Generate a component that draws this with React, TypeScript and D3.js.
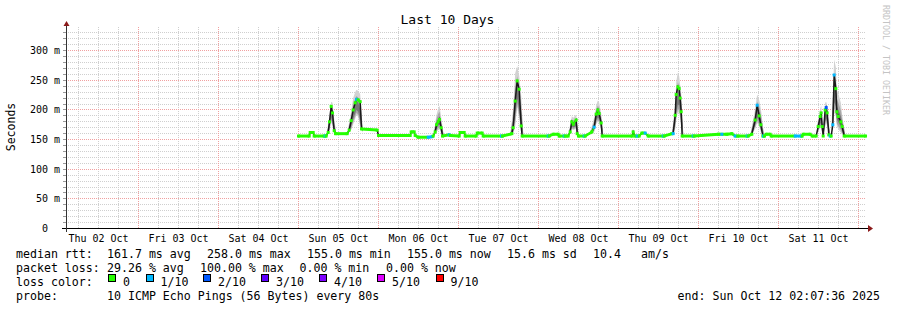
import React from 'react';
import * as d3 from 'd3';

// ---- data ----
const startTime = new Date(2025, 9, 2, 2, 7, 36);
const endTime = new Date(2025, 9, 12, 2, 7, 36);
const dataOrigin = new Date(2025, 9, 5, 0, 0, 0);

// hours since Sun 05 Oct 00:00
const hours = [
  0.0, 3.2, 3.5, 4.4, 4.7, 7.7, 8.0, 8.3, 8.9, 9.3, 9.8, 10.2, 10.7, 11.1,
  14.6, 15.2, 15.8, 16.4, 17.0, 17.4, 17.9, 18.5, 18.9, 23.6, 24.0,
  33.5, 33.8, 34.7, 35.0, 35.9, 38.9, 40.1, 40.4, 41.0, 41.4, 41.9, 42.3, 42.8, 43.2,
  45.2, 45.5, 48.2, 48.5, 49.7, 50.0, 53.3, 53.6, 55.1, 55.4, 60.9, 61.2,
  64.0, 64.4, 65.0, 65.6, 66.2, 66.8, 67.1,
  74.9, 75.2, 76.4, 77.9, 78.2, 79.7, 80.0, 80.9, 81.5, 82.0, 82.4, 83.3, 83.6, 84.0,
  85.7, 86.0, 88.0, 88.7, 89.3, 89.8, 90.2, 90.8, 91.1,
  100.1, 100.4, 100.9, 101.6, 102.2, 103.0, 104.0, 104.9, 109.4, 109.7,
  112.0, 112.4, 113.0, 113.3, 113.8, 114.2, 114.5, 114.8, 115.1,
  118.4, 118.7, 126.0, 127.0, 128.5, 130.0, 131.0, 131.8,
  134.6, 134.9, 136.0, 137.0, 137.6, 138.2, 138.7, 139.3, 139.5, 139.8, 140.3, 141.5, 141.8,
  149.0, 150.8, 151.1, 151.4, 153.5, 154.1,
  155.3, 155.9, 156.5, 156.8, 157.1, 157.4, 158.0, 158.3, 158.6, 159.1, 159.5, 159.8,
  160.3, 160.7, 161.2, 161.5, 161.9, 162.7, 163.1, 163.7, 170.1,
];
const medianMs = [
  156, 156, 162, 162, 156, 156, 156, 156, 162, 180, 206, 195, 165, 160,
  160, 166, 182, 200, 212, 218, 217, 214, 168, 166, 157,
  157, 163, 163, 157, 154, 154, 155, 156, 163, 175, 180, 184, 170, 156,
  158, 157, 156, 162, 162, 156, 156, 161, 161, 156, 156, 156,
  160, 170, 215, 249, 235, 173, 156,
  156, 156, 159, 159, 156, 156, 156, 156, 163, 180, 176, 183, 160, 156,
  156, 156, 163, 171, 193, 200, 194, 178, 156,
  156, 163, 156, 156, 156, 161, 161, 156, 156, 156,
  160, 160, 191, 226, 239, 236, 220, 197, 156,
  156, 156, 159, 159, 159, 160, 156, 156,
  156, 156, 159, 183, 208, 190, 175, 156, 156, 156, 159, 159, 156,
  156, 156, 156, 159, 159, 156,
  156, 172, 189, 195, 172, 156, 200, 204, 195, 158, 156, 156,
  175, 259, 236, 197, 189, 180, 172, 156, 156,
];
// lost pings out of 10
const lossTenths = [
  0, 0, 0, 0, 0, 0, 1, 0, 0, 0, 0, 0, 0, 0,
  0, 0, 0, 0, 0, 1, 0, 0, 0, 0, 0,
  0, 0, 0, 0, 0, 1, 1, 0, 0, 0, 0, 0, 0, 0,
  1, 0, 0, 0, 0, 0, 0, 0, 0, 0, 1, 0,
  0, 0, 0, 0, 0, 0, 0,
  1, 0, 0, 0, 0, 1, 0, 0, 0, 0, 0, 0, 0, 0,
  1, 0, 0, 1, 0, 0, 0, 0, 0,
  0, 0, 0, 1, 0, 0, 1, 0, 1, 0,
  0, 1, 0, 0, 0, 0, 0, 0, 0,
  1, 0, 0, 1, 0, 0, 1, 0,
  1, 0, 0, 0, 1, 0, 0, 0, 1, 0, 0, 0, 0,
  1, 1, 0, 0, 0, 0,
  0, 0, 0, 0, 0, 0, 0, 2, 0, 0, 1, 0,
  1, 1, 0, 0, 0, 0, 0, 0, 0,
];

// smoke (spread of the 10 pings)
const smokeGroup = [
  1, 1, 1, 1, 1, 1,
  2, 2, 2, 2, 2, 2, 2, 2,
  3, 3, 3, 3, 3, 3,
  4, 4, 4, 4, 4, 4, 4,
  5, 5, 5, 5, 5,
  6, 6, 6, 6, 6, 6, 6,
  7, 7, 7, 7, 7, 7, 7, 7,
  8, 8, 8, 8, 8, 8,
  9, 9, 9, 9, 9, 9, 9, 9, 9,
  10, 10, 10, 10, 10, 10, 10, 10,
];
const smokeHours = [
  8.6, 9.3, 9.8, 10.2, 10.7, 11.3,
  14.9, 15.8, 16.4, 17.0, 17.4, 17.9, 18.5, 19.2,
  40.7, 41.4, 41.9, 42.3, 42.8, 43.5,
  63.6, 64.4, 65.0, 65.6, 66.2, 66.8, 67.4,
  81.2, 82.0, 82.4, 83.3, 83.9,
  87.7, 88.7, 89.3, 89.8, 90.2, 90.8, 91.4,
  112.1, 113.0, 113.3, 113.8, 114.2, 114.5, 114.8, 115.4,
  135.7, 137.0, 137.6, 138.2, 138.7, 139.6,
  155.6, 156.5, 156.8, 157.1, 157.4, 158.0, 158.3, 158.6, 159.4,
  160.0, 160.7, 161.2, 161.5, 161.9, 162.7, 163.1, 164.0,
];
const smokeLowMs = [
  160, 165, 180, 172, 160, 158,
  160, 166, 176, 185, 192, 188, 172, 162,
  157, 163, 166, 168, 160, 156,
  156, 160, 172, 205, 185, 163, 156,
  158, 168, 166, 168, 157,
  158, 163, 176, 180, 178, 166, 156,
  157, 168, 182, 196, 195, 186, 172, 156,
  157, 168, 178, 172, 163, 156,
  160, 170, 172, 160, 156, 172, 178, 172, 156,
  162, 195, 190, 172, 168, 162, 158, 156,
];
const smokeHighMs = [
  164, 192, 214, 212, 185, 162,
  170, 197, 220, 230, 234, 232, 227, 175,
  166, 192, 202, 207, 188, 160,
  162, 203, 262, 274, 258, 224, 162,
  166, 190, 187, 192, 166,
  166, 187, 208, 216, 212, 195, 160,
  164, 208, 247, 263, 257, 242, 228, 164,
  163, 202, 226, 217, 202, 160,
  176, 202, 207, 188, 168, 212, 214, 207, 162,
  186, 285, 272, 234, 228, 212, 192, 160,
];

const yTickValues = [0, 50, 100, 150, 200, 250, 300];
const lossLabels = ['0', '1/10', '2/10', '3/10', '4/10', '5/10', '9/10'];
const lossColors = ['#26ff00', '#00b8ff', '#0059ff', '#5e00ff', '#7e00ff', '#dd00ff', '#ff0000'];
const lossColorByTenths: Record<number, string> = { 0: '#26ff00', 1: '#00b8ff', 2: '#0059ff', 3: '#5e00ff', 4: '#7e00ff', 5: '#dd00ff', 9: '#ff0000' };

const titleText = 'Last 10 Days';
const yAxisTitle = 'Seconds';
const medianRow = ['median rtt:', '161.7 ms avg', '258.0 ms max', '155.0 ms min', '155.0 ms now', '15.6 ms sd', '10.4', 'am/s'];
const lossRow = ['packet loss:', '29.26 % avg', '100.00 % max', '0.00 % min', '0.00 % now'];
const probeRow = ['probe:', '10 ICMP Echo Pings (56 Bytes) every 80s'];
const endText = 'end: Sun Oct 12 02:07:36 2025';
const watermark = 'RRDTOOL / TOBI OETIKER';

// ---- layout ----
const W = 897;
const H = 310;
const MONO = "'DejaVu Sans Mono', monospace";

const toDate = (h: number) => new Date(dataOrigin.getTime() + h * 3600 * 1000);

export default function App() {
  const x = d3.scaleTime().domain([startTime, endTime]).range([65.6, 865.6]);
  const y = d3.scaleLinear().domain([0, 340]).range([228.5, 228.5 - 340 * 0.5927]);
  const crisp = (v: number) => Math.floor(v) + 0.5;

  const plotTop = y(340);
  const plotBottom = 228.5;

  // grid
  const minorY = d3.range(10, 340, 10).filter((v) => v % 50 !== 0);
  const majorY = d3.range(50, 340, 50);
  const sixHours = d3.timeHour.every(6)!.range(startTime, endTime).filter((d) => d.getHours() !== 0);
  const days = d3.timeDay.range(startTime, endTime);
  const labelDays = d3.timeDay.range(new Date(2025, 9, 2), new Date(2025, 9, 12));

  // median points
  const pts = hours.map((h, i) => ({ t: toDate(h), m: medianMs[i], l: lossTenths[i] }));
  const medLine = d3.line<any>().x((d) => x(d.t)).y((d) => y(d.m))(pts) || '';

  // smoke
  const smokePts = smokeHours.map((h, i) => ({ t: toDate(h), lo: smokeLowMs[i], hi: smokeHighMs[i], g: smokeGroup[i] }));
  const groups = Array.from(d3.group(smokePts, (d) => d.g).values());
  const band = (f0: number, f1: number) =>
    d3
      .area<any>()
      .x((d) => x(d.t))
      .y0((d) => y(d.lo + (d.hi - d.lo) * f0))
      .y1((d) => y(d.lo + (d.hi - d.lo) * f1));
  const smokeLayers = [
    { f0: 0, f1: 1, c: '#d2d2d2' },
    { f0: 0.08, f1: 0.75, c: '#a8a8a8' },
    { f0: 0.2, f1: 0.55, c: '#787878' },
  ];

  // loss colored band segments
  const segs: { d: string; c: string }[] = [];
  for (let i = 0; i < pts.length - 1; i++) {
    const a = pts[i];
    const b = pts[i + 1];
    const dy = Math.abs(y(a.m) - y(b.m));
    if (dy > 5) continue;
    const lv = Math.min(a.l, b.l);
    const ar = d3
      .area<any>()
      .x((d) => x(d.t))
      .y0((d) => y(d.m) - 1.5)
      .y1((d) => y(d.m) + 1.5)([a, b]);
    segs.push({ d: ar || '', c: lossColorByTenths[lv] });
  }

  const legendY = [257.7, 271.7, 285.7, 300];
  const medianX = [16, 107, 207, 307, 407, 507, 593, 641];
  const lossX = [16, 107, 200, 299.5, 386];
  const swatchX = [108.5, 146, 203.5, 261.5, 319.5, 377.5, 436];

  return (
    <svg
      width={W}
      height={H}
      viewBox={`0 0 ${W} ${H}`}
      style={{ position: 'absolute', left: 0, top: 0, background: '#fff' }}
      fontFamily={MONO}
    >
      <rect x={0} y={0} width={W} height={H} fill="#fff" />

      {/* grid */}
      <g shapeRendering="crispEdges">
        {minorY.map((v) => (
          <line key={'my' + v} x1={66} x2={866} y1={crisp(y(v))} y2={crisp(y(v))} stroke="#cfcfcf" strokeDasharray="1 1" />
        ))}
        {sixHours.map((d, i) => (
          <line key={'mx' + i} x1={crisp(x(d))} x2={crisp(x(d))} y1={plotTop} y2={plotBottom} stroke="#cfcfcf" strokeDasharray="1 1" />
        ))}
        {majorY.map((v) => (
          <line key={'My' + v} x1={66} x2={866} y1={crisp(y(v))} y2={crisp(y(v))} stroke="#f0a0a0" strokeDasharray="1 1" />
        ))}
        {days.map((d, i) => (
          <line key={'Mx' + i} x1={crisp(x(d))} x2={crisp(x(d))} y1={plotTop} y2={plotBottom} stroke="#f0a0a0" strokeDasharray="1 1" />
        ))}
        {d3.range(10, 340, 10).map((v) => (
          <line key={'yt' + v} x1={63} x2={66} y1={crisp(y(v))} y2={crisp(y(v))} stroke="#999" />
        ))}
      </g>

      {/* smoke */}
      {smokeLayers.map((L, li) =>
        groups.map((g, gi) => <path key={'s' + li + '-' + gi} d={band(L.f0, L.f1)(g) || ''} fill={L.c} />)
      )}

      {/* median */}
      <path d={medLine} fill="none" stroke="#1a1a1a" strokeWidth={1.5} />
      {segs.map((s, i) => (
        <path key={'seg' + i} d={s.d} fill={s.c} />
      ))}
      {pts.map((p, i) => (
        <rect key={'pt' + i} x={x(p.t) - 1.5} y={y(p.m) - 1.5} width={3} height={3} fill={lossColorByTenths[p.l]} />
      ))}

      {/* axes */}
      <g shapeRendering="crispEdges">
        <line x1={62} x2={869} y1={228.5} y2={228.5} stroke="#000" />
        <line x1={66.5} x2={66.5} y1={232} y2={24} stroke="#333" />
      </g>
      <path d="M868,225 L873,228.5 L868,232 Z" fill="#8b1a1a" />
      <path d="M63.5,26 L66.5,21 L69.5,26 Z" fill="#8b1a1a" />

      {/* y labels */}
      {yTickValues.map((v) => (
        <text key={'yl' + v} x={v === 0 ? 48 : 60} y={y(v)} dy="0.35em" fontSize={10} textAnchor="end" fill="#000">
          {v === 0 ? '0' : `${v} m`}
        </text>
      ))}
      {/* x labels */}
      {labelDays.map((d, i) => (
        <text key={'xl' + i} x={x(new Date(d.getTime() + 12 * 3600 * 1000))} y={241.5} fontSize={10} textAnchor="middle" fill="#000">
          {d3.timeFormat('%a %d %b')(d)}
        </text>
      ))}

      {/* titles */}
      <text x={447.5} y={24} fontSize={13} textAnchor="middle" fill="#000">
        {titleText}
      </text>
      <text transform="translate(15,127) rotate(-90)" fontSize={11.5} textAnchor="middle" fill="#000">
        {yAxisTitle}
      </text>
      <text transform="translate(883,5) rotate(90)" fontSize={8.3} fill="#c4c4c4">
        {watermark}
      </text>

      {/* legend */}
      <g fontSize={11.6} fill="#000" style={{ whiteSpace: 'pre' }}>
        {medianRow.map((t, i) => (
          <text key={'r1' + i} x={medianX[i]} y={legendY[0]}>
            {t}
          </text>
        ))}
        {lossRow.map((t, i) => (
          <text key={'r2' + i} x={lossX[i]} y={legendY[1]}>
            {t}
          </text>
        ))}
        <text x={16} y={legendY[2]}>loss color:</text>
        {lossLabels.map((t, i) => (
          <g key={'lc' + i}>
            <rect x={swatchX[i]} y={274.5} width={7} height={7} fill={lossColors[i]} stroke="#000" strokeWidth={1} shapeRendering="crispEdges" />
            <text x={swatchX[i] + 14.5} y={legendY[2]}>
              {t}
            </text>
          </g>
        ))}
        <text x={16} y={legendY[3]}>{probeRow[0]}</text>
        <text x={107} y={legendY[3]}>{probeRow[1]}</text>
        <text x={880} y={legendY[3]} textAnchor="end">
          {endText}
        </text>
      </g>
    </svg>
  );
}
